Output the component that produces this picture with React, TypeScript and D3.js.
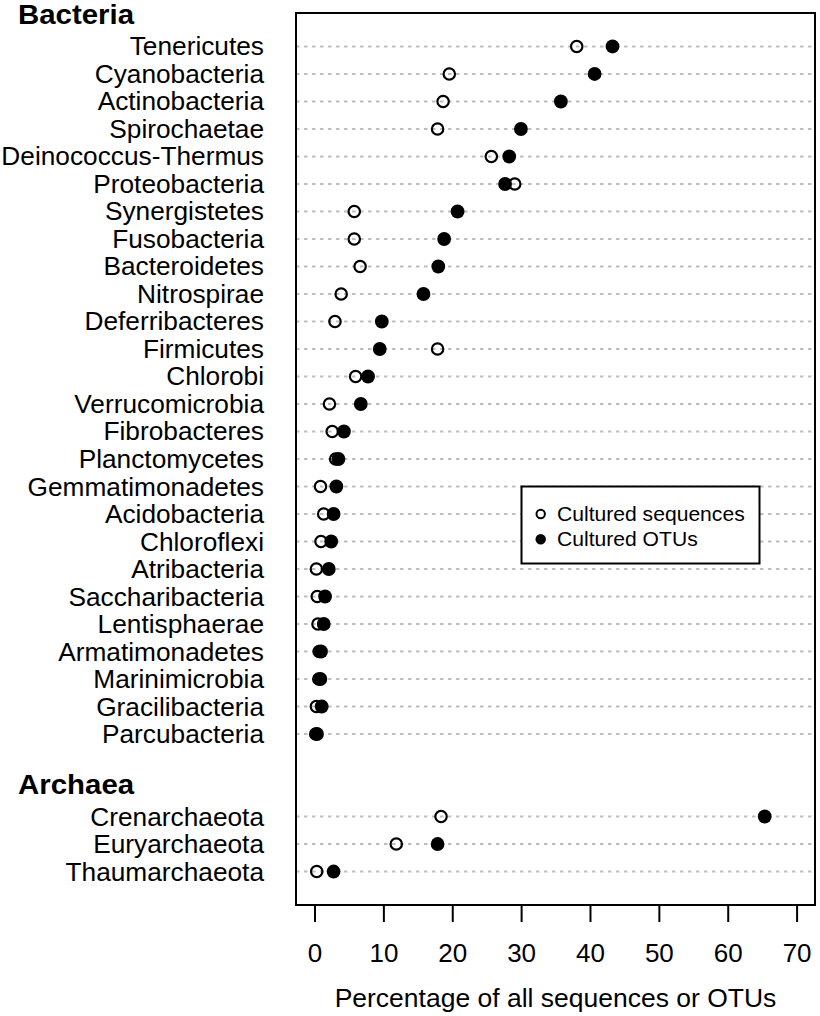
import React from "react";
import * as d3 from "d3";

const bacteria = [
  "Tenericutes", "Cyanobacteria", "Actinobacteria", "Spirochaetae", "Deinococcus-Thermus",
  "Proteobacteria", "Synergistetes", "Fusobacteria", "Bacteroidetes", "Nitrospirae",
  "Deferribacteres", "Firmicutes", "Chlorobi", "Verrucomicrobia", "Fibrobacteres",
  "Planctomycetes", "Gemmatimonadetes", "Acidobacteria", "Chloroflexi", "Atribacteria",
  "Saccharibacteria", "Lentisphaerae", "Armatimonadetes", "Marinimicrobia", "Gracilibacteria",
  "Parcubacteria",
];
const bacteriaSeq = [
  38.0, 19.5, 18.6, 17.8, 25.6, 29.0, 5.7, 5.7, 6.55, 3.8, 2.9, 17.8, 5.9, 2.1, 2.5,
  3.0, 0.8, 1.26, 0.87, 0.2, 0.33, 0.43, 0.6, 0.55, 0.2, 0.1,
];
const bacteriaOTU = [
  43.2, 40.6, 35.7, 29.9, 28.2, 27.6, 20.7, 18.75, 17.9, 15.75, 9.7, 9.4, 7.7, 6.65, 4.2,
  3.4, 3.1, 2.7, 2.35, 2.0, 1.46, 1.27, 0.87, 0.78, 0.97, 0.29,
];
const archaea = ["Crenarchaeota", "Euryarchaeota", "Thaumarchaeota"];
const archaeaSeq = [18.3, 11.8, 0.25];
const archaeaOTU = [65.3, 17.8, 2.7];
const xTicks = [0, 10, 20, 30, 40, 50, 60, 70];
const legendLabels = ["Cultured sequences", "Cultured OTUs"];
const xTitle = "Percentage of all sequences or OTUs";

const FONT = "'Liberation Sans', Arial, Helvetica, sans-serif";

export default function App() {
  const W = 820, H = 1016;
  const box = { l: 296, r: 815, t: 13, b: 905 };
  const x = d3.scaleLinear().domain([-2.76, 72.6]).range([box.l, box.r]);
  const pad = 1.218;
  const y = d3.scaleLinear().domain([-pad, 30 + pad]).range([box.t, box.b]);

  const rows = [
    ...bacteria.map((label, i) => ({ label, seq: bacteriaSeq[i], otu: bacteriaOTU[i], idx: i })),
    ...archaea.map((label, i) => ({ label, seq: archaeaSeq[i], otu: archaeaOTU[i], idx: 28 + i })),
  ];
  const headers = [
    { label: "Bacteria", idx: -1 },
    { label: "Archaea", idx: 27 },
  ];
  const labelX = 264;

  return (
    <svg width={W} height={H} style={{ position: "absolute", left: 0, top: 0, background: "#fff" }}
      fontFamily={FONT}>
      {rows.map((r) => (
        <line key={"g" + r.label} x1={box.l} x2={box.r} y1={y(r.idx)} y2={y(r.idx)}
          stroke="#bdbdbd" strokeWidth={2} strokeDasharray="3.5 4.5" />
      ))}
      {rows.map((r) => (
        <circle key={"o" + r.label} cx={x(r.seq)} cy={y(r.idx)} r={5.7}
          fill="none" stroke="#000" strokeWidth={2.2} />
      ))}
      {rows.map((r) => (
        <circle key={"f" + r.label} cx={x(r.otu)} cy={y(r.idx)} r={6.9} fill="#000" />
      ))}
      {rows.map((r) => (
        <text key={"l" + r.label} transform={`translate(${labelX},${y(r.idx) + 9}) scale(1.03,1)`}
          textAnchor="end" fontSize={25.5} fill="#000">{r.label}</text>
      ))}
      {headers.map((h) => (
        <text key={"h" + h.label} transform={`translate(18,${y(h.idx) + 5}) scale(1.07,1)`}
          fontSize={27.5} fontWeight="bold" fill="#000">{h.label}</text>
      ))}
      <rect x={box.l} y={box.t} width={box.r - box.l} height={box.b - box.t}
        fill="none" stroke="#000" strokeWidth={2} />
      {xTicks.map((t) => (
        <g key={"t" + t}>
          <line x1={x(t)} x2={x(t)} y1={box.b} y2={box.b + 17} stroke="#000" strokeWidth={2} />
          <text transform={`translate(${x(t)},962)`} textAnchor="middle"
            fontSize={26} fill="#000">{t}</text>
        </g>
      ))}
      <text transform={`translate(${(box.l + box.r) / 2},1007) scale(1.06,1)`} textAnchor="middle"
        fontSize={25} fill="#000">{xTitle}</text>
      <rect x={521.5} y={486.5} width={238} height={77} fill="#fff" stroke="#000" strokeWidth={2} />
      <circle cx={540.7} cy={514} r={4.2} fill="none" stroke="#000" strokeWidth={2} />
      <circle cx={540.7} cy={539.3} r={5.2} fill="#000" />
      {legendLabels.map((s, i) => (
        <text key={s} transform={`translate(557,${520.5 + i * 25.5}) scale(1.03,1)`}
          fontSize={20.5} fill="#000">{s}</text>
      ))}
    </svg>
  );
}
